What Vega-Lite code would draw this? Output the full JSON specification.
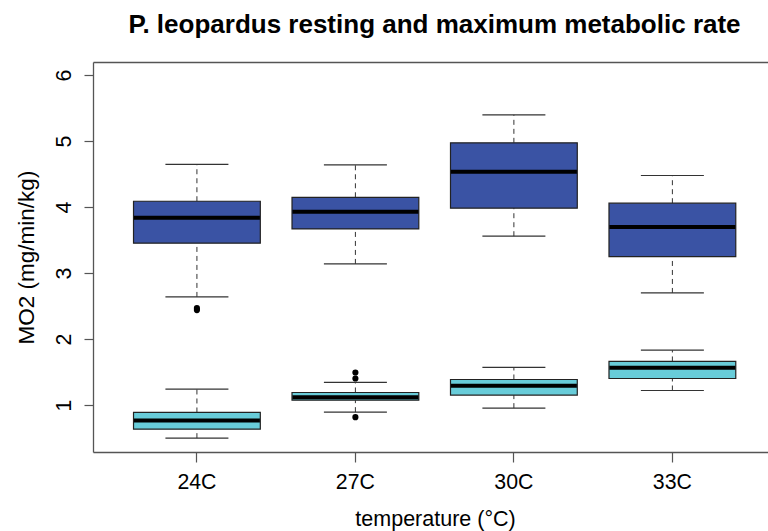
{
  "$schema": "https://vega.github.io/schema/vega-lite/v6.json",
  "width": 675,
  "height": 390,
  "autosize": {"type": "none"},
  "padding": {"left": 93, "top": 62, "right": 0, "bottom": 79},
  "background": "white",
  "config": {
    "view": {"stroke": null},
    "font": "Liberation Sans",
    "axis": {"grid": false, "domainColor": "#555555", "domainWidth": 1.3, "tickColor": "#555555", "tickWidth": 1.2, "labelColor": "black", "titleColor": "black", "labelFont": "Liberation Sans", "titleFont": "Liberation Sans"}
  },
  "title": {
    "text": "P. leopardus resting and maximum metabolic rate",
    "font": "Liberation Sans",
    "fontSize": 26,
    "fontWeight": "bold",
    "color": "black",
    "anchor": "middle",
    "frame": "group",
    "dx": 4,
    "dy": 27,
    "offset": 30,
    "baseline": "alphabetic"
  },
  "datasets": {
    "boxes": [
      {"temperature": "24C", "rate": "maximum", "lower": 2.64, "q1": 3.455, "median": 3.84, "q3": 4.09, "upper": 4.65},
      {"temperature": "27C", "rate": "maximum", "lower": 3.14, "q1": 3.67, "median": 3.93, "q3": 4.15, "upper": 4.64},
      {"temperature": "30C", "rate": "maximum", "lower": 3.56, "q1": 3.985, "median": 4.535, "q3": 4.975, "upper": 5.4},
      {"temperature": "33C", "rate": "maximum", "lower": 2.7, "q1": 3.25, "median": 3.7, "q3": 4.06, "upper": 4.48},
      {"temperature": "24C", "rate": "resting", "lower": 0.5, "q1": 0.636, "median": 0.768, "q3": 0.889, "upper": 1.242},
      {"temperature": "27C", "rate": "resting", "lower": 0.894, "q1": 1.076, "median": 1.12, "q3": 1.192, "upper": 1.344},
      {"temperature": "30C", "rate": "resting", "lower": 0.955, "q1": 1.152, "median": 1.293, "q3": 1.389, "upper": 1.571},
      {"temperature": "33C", "rate": "resting", "lower": 1.222, "q1": 1.404, "median": 1.565, "q3": 1.662, "upper": 1.833}
    ],
    "outliers": [
      {"temperature": "24C", "rate": "maximum", "value": 2.44},
      {"temperature": "24C", "rate": "maximum", "value": 2.47},
      {"temperature": "27C", "rate": "resting", "value": 1.495},
      {"temperature": "27C", "rate": "resting", "value": 1.404},
      {"temperature": "27C", "rate": "resting", "value": 0.818}
    ]
  },
  "resolve": {"axis": {"x": "independent", "y": "independent"}},
  "layer": [
    {
      "data": {"name": "boxes"},
      "mark": {"type": "rule", "stroke": "#333333", "strokeWidth": 1, "strokeDash": [5, 4]},
      "encoding": {
        "x": {
          "field": "temperature", "type": "nominal", "sort": ["24C", "27C", "30C", "33C"],
          "scale": {"type": "band", "paddingInner": 0.2, "paddingOuter": 0.2295, "align": 0.557},
          "axis": {
            "orient": "bottom", "title": "temperature (°C)", "labelAngle": 0,
            "tickSize": 10, "labelPadding": 26, "labelBaseline": "alphabetic", "labelAlign": "center", "labelFontSize": 21.3,
            "titleFontSize": 21.5, "titleFontWeight": "normal", "titleX": 342, "titleY": 73, "titleAlign": "center", "titleBaseline": "alphabetic"
          }
        },
        "y": {
          "field": "lower", "type": "quantitative",
          "scale": {"domain": [0.29, 6.2], "nice": false, "zero": false},
          "axis": {
            "orient": "left", "values": [1, 2, 3, 4, 5, 6], "title": "MO2 (mg/min/kg)",
            "tickSize": 9, "labelPadding": 14, "labelAngle": 270, "labelAlign": "center", "labelBaseline": "alphabetic", "labelFontSize": 21.3,
            "titleFontSize": 22.5, "titleFontWeight": "normal", "titleAngle": 270, "titleX": -60, "titleY": 195, "titleAlign": "center", "titleBaseline": "alphabetic"
          }
        },
        "y2": {"field": "q1"}
      }
    },
    {
      "data": {"name": "boxes"},
      "mark": {"type": "rule", "stroke": "#333333", "strokeWidth": 1, "strokeDash": [5, 4]},
      "encoding": {
        "x": {
          "field": "temperature", "type": "nominal", "sort": ["24C", "27C", "30C", "33C"],
          "scale": {"type": "band", "paddingInner": 0.2, "paddingOuter": 0.2295, "align": 0.557},
          "axis": {"orient": "top", "title": null, "labels": false, "ticks": false, "domain": true}
        },
        "y": {"field": "q3", "type": "quantitative", "scale": {"domain": [0.29, 6.2], "nice": false, "zero": false}, "axis": null},
        "y2": {"field": "upper"}
      }
    },
    {
      "data": {"name": "boxes"},
      "mark": {"type": "tick", "color": "#333333", "thickness": 1.2, "size": 63, "opacity": 1},
      "encoding": {
        "x": {"field": "temperature", "type": "nominal", "sort": ["24C", "27C", "30C", "33C"], "scale": {"type": "band", "paddingInner": 0.2, "paddingOuter": 0.2295, "align": 0.557}, "axis": null},
        "y": {"field": "lower", "type": "quantitative", "scale": {"domain": [0.29, 6.2], "nice": false, "zero": false}, "axis": null}
      }
    },
    {
      "data": {"name": "boxes"},
      "mark": {"type": "tick", "color": "#333333", "thickness": 1.2, "size": 63, "opacity": 1},
      "encoding": {
        "x": {"field": "temperature", "type": "nominal", "sort": ["24C", "27C", "30C", "33C"], "scale": {"type": "band", "paddingInner": 0.2, "paddingOuter": 0.2295, "align": 0.557}, "axis": null},
        "y": {"field": "upper", "type": "quantitative", "scale": {"domain": [0.29, 6.2], "nice": false, "zero": false}, "axis": null}
      }
    },
    {
      "data": {"name": "boxes"},
      "mark": {"type": "bar", "stroke": "#222222", "strokeWidth": 1.2, "opacity": 1},
      "encoding": {
        "x": {"field": "temperature", "type": "nominal", "sort": ["24C", "27C", "30C", "33C"], "scale": {"type": "band", "paddingInner": 0.2, "paddingOuter": 0.2295, "align": 0.557}, "axis": null},
        "y": {"field": "q1", "type": "quantitative", "scale": {"domain": [0.29, 6.2], "nice": false, "zero": false}, "axis": null},
        "y2": {"field": "q3"},
        "color": {"field": "rate", "type": "nominal", "scale": {"domain": ["maximum", "resting"], "range": ["#3A53A4", "#68CCD9"]}, "legend": null}
      }
    },
    {
      "data": {"name": "boxes"},
      "mark": {"type": "tick", "color": "black", "thickness": 4, "size": 126, "opacity": 1},
      "encoding": {
        "x": {"field": "temperature", "type": "nominal", "sort": ["24C", "27C", "30C", "33C"], "scale": {"type": "band", "paddingInner": 0.2, "paddingOuter": 0.2295, "align": 0.557}, "axis": null},
        "y": {"field": "median", "type": "quantitative", "scale": {"domain": [0.29, 6.2], "nice": false, "zero": false}, "axis": null}
      }
    },
    {
      "data": {"name": "outliers"},
      "mark": {"type": "point", "shape": "circle", "filled": true, "color": "black", "size": 38, "opacity": 1},
      "encoding": {
        "x": {"field": "temperature", "type": "nominal", "sort": ["24C", "27C", "30C", "33C"], "scale": {"type": "band", "paddingInner": 0.2, "paddingOuter": 0.2295, "align": 0.557}, "axis": null},
        "y": {"field": "value", "type": "quantitative", "scale": {"domain": [0.29, 6.2], "nice": false, "zero": false}, "axis": null}
      }
    }
  ]
}
